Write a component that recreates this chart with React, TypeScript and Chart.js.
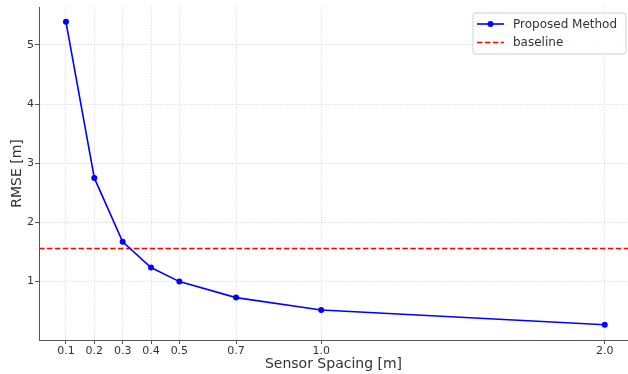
import React, { useEffect, useRef } from "react";
import { Chart, registerables } from "chart.js";

Chart.register(...registerables);

// ---- data ----
const SPACING = [0.1, 0.2, 0.3, 0.4, 0.5, 0.7, 1.0, 2.0];
const RMSE = [5.39, 2.75, 1.67, 1.235, 0.997, 0.727, 0.518, 0.269];
const BASELINE = 1.555;
const X_TICKS = [0.1, 0.2, 0.3, 0.4, 0.5, 0.7, 1.0, 2.0];
const Y_TICKS = [1, 2, 3, 4, 5];
const X_MIN = 0.005;
const X_MAX = 2.082;
const Y_MIN = 0.01;
const Y_MAX = 5.64;
const SERIES_LABEL = "Proposed Method";
const BASELINE_LABEL = "baseline";
const X_TITLE = "Sensor Spacing [m]";
const Y_TITLE = "RMSE [m]";

const FONT = "'DejaVu Sans', sans-serif";
const TEXT = "#333333";
const SPINE = "#555555";
const GRID = "#d9d9d9";

const overlayPlugin = {
  id: "overlay",
  afterDraw(chart: any) {
    const ctx = chart.ctx;
    const area = chart.chartArea;
    ctx.save();
    // axis titles
    ctx.fillStyle = TEXT;
    ctx.font = `14px ${FONT}`;
    ctx.textAlign = "center";
    ctx.textBaseline = "middle";
    ctx.fillText(X_TITLE, (area.left + area.right) / 2, 364.5);
    ctx.save();
    ctx.translate(17, (area.top + area.bottom) / 2);
    ctx.rotate(-Math.PI / 2);
    ctx.fillText(Y_TITLE, 0, 0);
    ctx.restore();

    // legend
    const bx = 473, by = 13, bw = 153, bh = 41, r = 3;
    ctx.beginPath();
    ctx.moveTo(bx + r, by);
    ctx.lineTo(bx + bw - r, by);
    ctx.arcTo(bx + bw, by, bx + bw, by + r, r);
    ctx.lineTo(bx + bw, by + bh - r);
    ctx.arcTo(bx + bw, by + bh, bx + bw - r, by + bh, r);
    ctx.lineTo(bx + r, by + bh);
    ctx.arcTo(bx, by + bh, bx, by + bh - r, r);
    ctx.lineTo(bx, by + r);
    ctx.arcTo(bx, by, bx + r, by, r);
    ctx.closePath();
    ctx.fillStyle = "rgba(255,255,255,0.85)";
    ctx.fill();
    ctx.strokeStyle = "#d0d0d0";
    ctx.lineWidth = 1;
    ctx.stroke();

    const ds = chart.data.datasets;
    const rows = [24, 42.5];
    ds.forEach((d: any, i: number) => {
      const y = rows[i];
      ctx.beginPath();
      ctx.setLineDash(d.borderDash || []);
      ctx.strokeStyle = d.borderColor;
      ctx.lineWidth = d.borderWidth;
      ctx.moveTo(477, y);
      ctx.lineTo(504, y);
      ctx.stroke();
      ctx.setLineDash([]);
      if (d.pointRadius > 0) {
        ctx.beginPath();
        ctx.fillStyle = d.pointBackgroundColor;
        ctx.arc(490.5, y, d.pointRadius, 0, Math.PI * 2);
        ctx.fill();
      }
      ctx.fillStyle = TEXT;
      ctx.font = `12px ${FONT}`;
      ctx.textAlign = "left";
      ctx.textBaseline = "middle";
      ctx.fillText(d.label, 513, y + 0.5);
    });
    ctx.restore();
  },
};

export default function App() {
  const ref = useRef<HTMLCanvasElement>(null);

  useEffect(() => {
    const canvas = ref.current;
    if (!canvas) return;
    const chart = new Chart(canvas, {
      type: "line",
      data: {
        datasets: [
          {
            label: SERIES_LABEL,
            data: SPACING.map((x, i) => ({ x, y: RMSE[i] })),
            borderColor: "#0000ff",
            backgroundColor: "#0000ff",
            pointBackgroundColor: "#0000ff",
            pointBorderWidth: 0,
            pointRadius: 3,
            borderWidth: 1.6,
            tension: 0,
            clip: false,
            order: 1,
          },
          {
            label: BASELINE_LABEL,
            data: [
              { x: X_MIN, y: BASELINE },
              { x: X_MAX, y: BASELINE },
            ],
            borderColor: "#ff0000",
            backgroundColor: "#ff0000",
            pointRadius: 0,
            borderWidth: 1.5,
            borderDash: [5.5, 2.4],
            order: 2,
          },
        ],
      },
      options: {
        animation: false,
        responsive: false,
        devicePixelRatio: 1,
        layout: { autoPadding: false, padding: { top: 7, right: 0, left: 0, bottom: 0 } },
        plugins: {
          legend: { display: false },
          tooltip: { enabled: false },
        },
        scales: {
          x: {
            type: "linear",
            min: X_MIN,
            max: X_MAX,
            afterBuildTicks: (s: any) => {
              s.ticks = X_TICKS.map((v) => ({ value: v }));
            },
            afterFit: (s: any) => {
              s.height = 34;
              s.paddingLeft = 0;
              s.paddingRight = 0;
            },
            ticks: {
              autoSkip: false,
              maxRotation: 0,
              padding: 1,
              color: TEXT,
              font: { family: FONT, size: 11 },
              callback: (v: any) => Number(v).toFixed(1),
            },
            grid: {
              color: GRID,
              lineWidth: 0.8,
              tickLength: 4,
              tickColor: SPINE,
              tickWidth: 1,
            },
            border: { display: true, color: SPINE, width: 1, dash: [1.5, 1.5] },
          },
          y: {
            type: "linear",
            min: Y_MIN,
            max: Y_MAX,
            afterBuildTicks: (s: any) => {
              s.ticks = Y_TICKS.map((v) => ({ value: v }));
            },
            afterFit: (s: any) => {
              s.width = 39;
              s.paddingTop = 0;
              s.paddingBottom = 0;
            },
            ticks: {
              padding: 1,
              color: TEXT,
              font: { family: FONT, size: 11 },
              callback: (v: any) => String(v),
            },
            grid: {
              color: GRID,
              lineWidth: 0.8,
              tickLength: 4,
              tickColor: SPINE,
              tickWidth: 1,
            },
            border: { display: true, color: SPINE, width: 1, dash: [1.5, 1.5] },
          },
        },
      },
      plugins: [overlayPlugin],
    });
    return () => chart.destroy();
  }, []);

  return (
    <div style={{ position: "fixed", left: 0, top: 0, width: 628, height: 374, background: "#fff" }}>
      <canvas ref={ref} width={628} height={374} style={{ display: "block" }} />
    </div>
  );
}
